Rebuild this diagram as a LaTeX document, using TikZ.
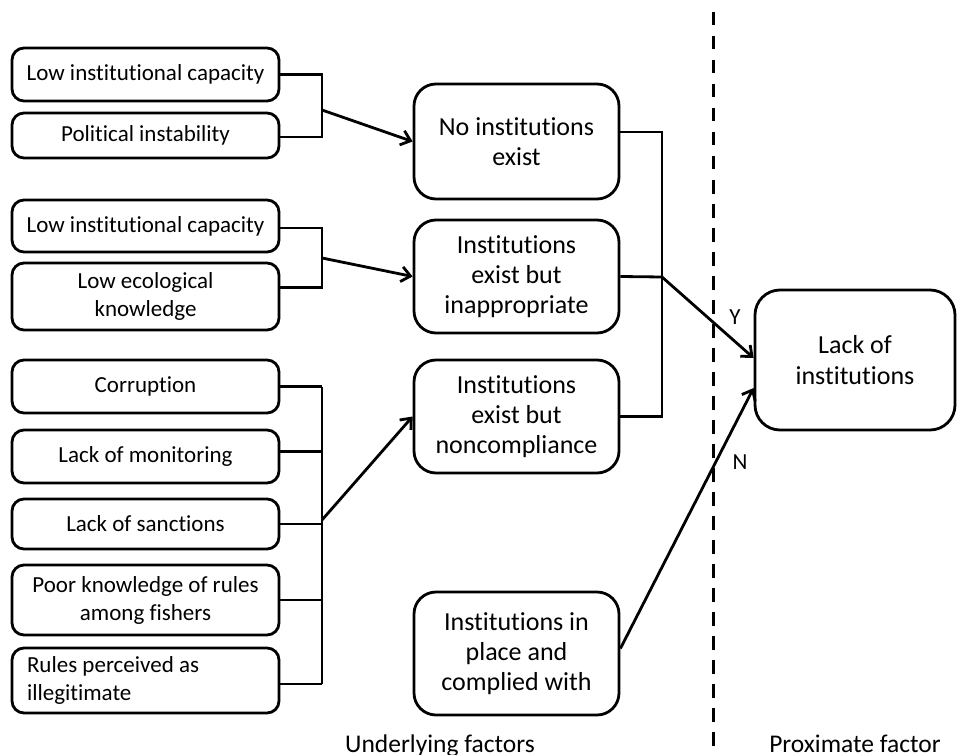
\documentclass[tikz,border=0pt]{standalone}
\usepackage{fontspec}
\setmainfont[Ligatures={NoCommon}]{Carlito}
\usetikzlibrary{arrows.meta,calc}
\begin{document}
\begin{tikzpicture}[x=1pt,y=-1pt,
  fbox/.style={draw, line width=2.8pt, rounded corners=12pt, minimum width=267pt, align=center, inner sep=2pt, font=\fontsize{23}{28}\selectfont},
  mbox/.style={draw, line width=2.8pt, rounded corners=22pt, minimum width=205pt, align=center, inner sep=2pt, font=\fontsize{26}{30}\selectfont},
  lbox/.style={draw, line width=2.8pt, rounded corners=25pt, minimum width=200pt, minimum height=140pt, align=center, font=\fontsize{26}{31}\selectfont},
  conn/.style={line width=2.8pt},
  arr/.style={line width=2.8pt, -{Straight Barb[length=9pt,width=15pt]}},
  dashline/.style={line width=3.5pt, dash pattern=on 13.5pt off 10.5pt},
  lbl/.style={font=\fontsize{23}{28}\selectfont, inner sep=0pt},
  ttl/.style={font=\fontsize{25.5}{30}\selectfont, inner sep=0pt, anchor=base}
]
\useasboundingbox (0,0) rectangle (957,754);

% left boxes
\node[fbox, minimum height=53pt] (A1) at (145.5,74.5) {Low institutional capacity};
\node[fbox, minimum height=45pt] (A2) at (145.5,135.5) {Political instability};
\node[fbox, minimum height=52pt] (B1) at (145.5,226) {Low institutional capacity};
\node[fbox, minimum height=67pt] (B2) at (145.5,296.5) {Low ecological\\knowledge};
\node[fbox, minimum height=53pt] (C1) at (145.5,386.5) {Corruption};
\node[fbox, minimum height=53pt] (C2) at (145.5,456.5) {Lack of monitoring};
\node[fbox, minimum height=50pt] (C3) at (145.5,524) {Lack of sanctions};
\node[fbox, minimum height=70pt] (C4) at (145.5,600) {Poor knowledge of rules\\among fishers};
\node[fbox, minimum height=65pt, text width=237pt, inner xsep=15pt, align=flush left] (C5) at (145.5,680.5) {Rules perceived as\\illegitimate};

% middle boxes
\node[mbox, minimum height=115pt] (M1) at (516.5,141.5) {No institutions\\exist};
\node[mbox, minimum height=113pt] (M2) at (516.5,276.5) {Institutions\\exist but\\inappropriate};
\node[mbox, minimum height=113pt] (M3) at (516.5,416.5) {Institutions\\exist but\\noncompliance};
\node[mbox, minimum height=123pt] (M4) at (516.5,653.5) {Institutions in\\place and\\complied with};

% right box
\node[lbox] (L) at (855,360) {Lack of\\institutions};

% junctions
\coordinate (j1) at (322,110);
\coordinate (j2) at (322,258);
\coordinate (j3) at (322,520);
\coordinate (k) at (662,277);

% bracket 1
\draw[conn] (A1.east) -| (j1) |- ([yshift=-1.5pt]A2.east);
\draw[arr] (j1) -- (M1.west);
% bracket 2
\draw[conn] ([yshift=-2pt]B1.east) -| (j2) |- ([yshift=9pt]B2.east);
\draw[arr] (j2) -- (M2.west);
% bracket 3
\draw[conn] (C1.east) -- (C1.east -| j3);
\draw[conn] ([yshift=5pt]C2.east) -- ([yshift=5pt]C2.east -| j3);
\draw[conn] (C3.east) -- (C3.east -| j3);
\draw[conn] (C4.east) -- (C4.east -| j3);
\draw[conn] ([yshift=-3.5pt]C5.east) -- ([yshift=-3.5pt]C5.east -| j3);
\draw[conn] (C1.east -| j3) -- ([yshift=-3.5pt]C5.east -| j3);
\draw[arr] (j3) -- (M3.west);

% right bracket
\draw[conn] ([yshift=9.5pt]M1.east) -| (k) |- (M3.east);
\draw[conn] (M2.east) -- (k);
\draw[arr] (k) -- ($(L.west)+(0,-2)$);
\draw[arr] ([yshift=5pt]M4.east) -- ($(L.west)+(0,28)$);

% dashed divider
\coordinate (dtop) at (713.5,12);
\coordinate (dbot) at (713.5,760);
\draw[dashline] (dtop) -- (dbot);

% labels
\node[lbl] (Y) at (735,317) {Y};
\node[lbl] (N) at (740,462) {N};
\node[ttl] (U) at (440,752) {Underlying factors};
\node[ttl] (P) at (855,752) {Proximate factor};
\end{tikzpicture}
\end{document}
